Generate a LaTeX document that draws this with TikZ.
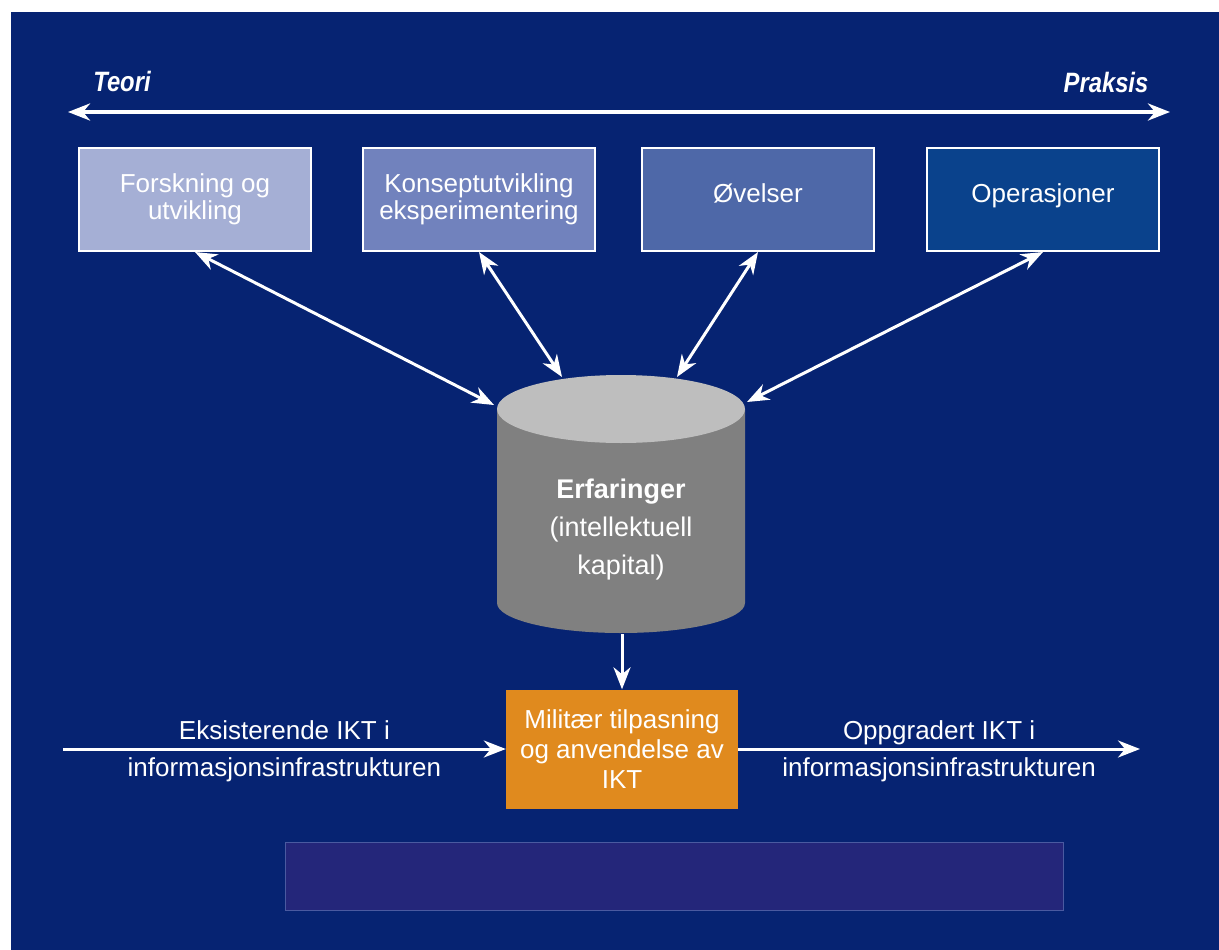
\documentclass[tikz,border=0pt]{standalone}
\usepackage{fontspec}
\setmainfont{Liberation Sans}
\newfontfamily\themefont[FakeStretch=0.85]{Liberation Sans}
\usetikzlibrary{arrows.meta}

\definecolor{navy}{HTML}{062372}
\definecolor{fouCol}{HTML}{A5AFD5}
\definecolor{konCol}{HTML}{7182BD}
\definecolor{ovCol}{HTML}{4E68A8}
\definecolor{opCol}{HTML}{0A428C}
\definecolor{cylTop}{HTML}{BEBEBE}
\definecolor{cylBody}{HTML}{808080}
\definecolor{iktCol}{HTML}{E08A1E}
\definecolor{noteCol}{HTML}{24267A}
\definecolor{noteLine}{HTML}{4A5AA0}

\begin{document}
\begin{tikzpicture}[x=1pt,y=-1pt,
  box/.style={draw=white,line width=2pt,minimum width=232pt,minimum height=103pt,inner sep=0pt,
    text=white,align=center,font=\fontsize{26}{27}\selectfont},
  oneline/.style={text height=20pt,text depth=15pt},
  theme/.style={text=white,inner sep=0pt,font={\themefont\fontsize{28}{30}\selectfont\bfseries\itshape}},
  lbl/.style={text=white,inner sep=2pt,text height=19pt,text depth=6pt,font=\fontsize{26}{27}\selectfont},
  tip/.style={white,line width=3pt,-{Stealth[length=22pt,width=17pt,inset=7pt]}},
  bothtip/.style={white,line width=3pt,{Stealth[length=22pt,width=17pt,inset=7pt]}-{Stealth[length=22pt,width=17pt,inset=7pt]}}]

\useasboundingbox (0,0) rectangle (1219,950);
\fill[navy] (11,12) rectangle (1219,950);

% theory -- practice axis
\path (122,81) node[theme](teori){Teori} (1106,82) node[theme](praksis){Praksis};
\coordinate (theoryEnd) at (68,112);
\coordinate (practiceEnd) at (1170,112);
\draw[bothtip,line width=4pt] (theoryEnd) -- (practiceEnd);

% sources of experience
\path (195,199.5) node[box,fill=fouCol](fou){Forskning og\\utvikling}
  (479,199.5) node[box,fill=konCol](kon){Konseptutvikling\\eksperimentering}
  (758,199.5) node[box,oneline,fill=ovCol](ov){Øvelser}
  (1043,199.5) node[box,oneline,fill=opCol](op){Operasjoner};

% the store of experience
\fill[cylBody] (497,409) -- (497,603) arc[start angle=180,end angle=360,x radius=124pt,y radius=30pt] -- (745,409) -- cycle;
\fill[cylTop] (621,409) ellipse[x radius=124pt,y radius=34pt];
\node[text=white,align=center,inner sep=0pt,font=\fontsize{27}{38}\selectfont](erf) at (621,530)
  {\textbf{Erfaringer}\\(intellektuell\\kapital)};
\coordinate (rimA) at (494,405);
\coordinate (rimB) at (562,377);
\coordinate (rimC) at (677,377);
\coordinate (rimD) at (747,402);
\coordinate (cylBase) at (622,634);

\draw[bothtip] (fou.south) -- (rimA);
\draw[bothtip] (kon.south) -- (rimB);
\draw[bothtip] (ov.south) -- (rimC);
\draw[bothtip] (op.south) -- (rimD);

% adaptation
\node[fill=iktCol,minimum width=232pt,minimum height=119pt,inner sep=0pt,text=white,align=center,
  font=\fontsize{26}{30}\selectfont](ikt) at (622,749) {Militær tilpasning\\og anvendelse av\\IKT};
\draw[tip] (cylBase) -- (ikt.north);

\coordinate (inStart) at (63,749);
\coordinate (outEnd) at (1140,749);
\draw[tip] (inStart) -- node[lbl,above=0pt]{Eksisterende IKT i} node[lbl,below=5pt]{informasjonsinfrastrukturen} (ikt.west);
\draw[tip] (ikt.east) -- node[lbl,above=0pt]{Oppgradert IKT i} node[lbl,below=5pt]{informasjonsinfrastrukturen} (outEnd);

\node[fill=noteCol,draw=noteLine,line width=1pt,minimum width=778pt,minimum height=68pt](note) at (674.5,876.5) {};
\end{tikzpicture}
\end{document}
